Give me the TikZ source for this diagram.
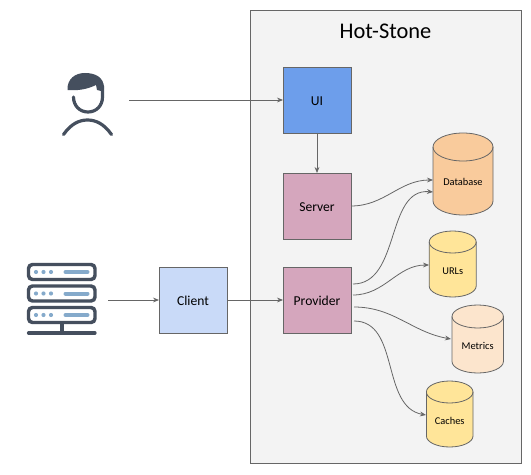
\documentclass[tikz,border=0pt]{standalone}
\usepackage{fontspec}
\setmainfont{Carlito}
\usetikzlibrary{arrows.meta}
\definecolor{edge}{HTML}{666666}
\definecolor{ink}{HTML}{454F5E}
\definecolor{steel}{HTML}{85AACB}
\definecolor{panelgrey}{HTML}{F3F3F3}
\definecolor{uiblue}{RGB}{109,158,235}
\definecolor{rose}{RGB}{213,166,189}
\definecolor{pale}{RGB}{201,218,248}
\definecolor{peach}{RGB}{249,203,156}
\definecolor{butter}{RGB}{255,229,153}
\definecolor{cream}{RGB}{252,229,205}
\tikzset{
  boxnode/.style={draw=edge,line width=0.6pt,minimum width=51pt,minimum height=49.5pt,inner sep=0pt,outer sep=0pt,text height=9pt,text depth=0.2pt,font=\fontsize{10.2}{12}\selectfont},
  drumline/.style={draw=edge,line width=0.6pt},
  drumtext/.style={inner sep=0pt,outer sep=0pt,font=\fontsize{7.8}{9}\selectfont},
  link/.style={draw=edge,line width=0.6pt,-{Stealth[length=4.5pt,width=3.6pt]}},
  iconline/.style={draw=ink,line width=2.4pt,line cap=round},
  rack/.style={draw=ink,fill=white,line width=2.6pt,rounded corners=3pt},
  led/.style={fill=steel,draw=none},
  ledbar/.style={draw=steel,line width=3pt,line cap=round}
}
% name, cx, top, bottom, rx, ry, colour, text, text y
\newcommand{\drumat}[9]{%
  \filldraw[drumline,fill=#7] ({#2-#5},{#3+#6}) -- ({#2-#5},{#4-#6})
     arc[start angle=180,end angle=0,x radius=#5,y radius=#6]
     -- ({#2+#5},{#3+#6})
     arc[start angle=0,end angle=-180,x radius=#5,y radius=#6] -- cycle;
  \draw[drumline] ({#2-#5},{#3+#6}) arc[start angle=180,end angle=0,x radius=#5,y radius=#6];
  \node[drumtext] (#1) at (#2,#9) {#8};
}
\begin{document}
\begin{tikzpicture}[x=0.75pt,y=-0.75pt]
\useasboundingbox (0,0) rectangle (531,474);
\fill[white] (0,0) rectangle (531,474);
\node[draw=edge,fill=panelgrey,line width=0.7pt,minimum width=203.25pt,minimum height=339.75pt,inner sep=0pt,outer sep=0pt] (panel) at (385.5,236.5) {};
\node[font=\fontsize{16.8}{20}\selectfont] (title) at (385.5,31) {Hot-Stone};
% user icon
\draw[iconline] (73.5,97) .. controls (73.5,106) and (80,112) .. (88,112) .. controls (96,112) and (102.5,106) .. (102.5,97) -- (102.5,86);
\fill[ink] (67.5,90) .. controls (67,79) and (75,73) .. (85,73) .. controls (95,73) and (104,77) .. (104,88) -- (101,91) -- (97,90) -- (96,85) .. controls (88,89) and (78,91) .. (67.5,90) -- cycle;
\draw[iconline] (63.5,134.5) .. controls (71,124) and (79,120) .. (87.5,120) .. controls (96,120) and (104,124) .. (111.5,134.5);
% server icon
\draw[iconline] (62,323) -- (62,333);
\draw[iconline] (28.5,333) -- (95,333);
\foreach \y in {264.5,286,307.5}{
  \draw[rack] (28.5,\y) rectangle (95,\y+15);
  \fill[led] (36,\y+7.5) circle[radius=2.1];
  \fill[led] (43.5,\y+7.5) circle[radius=2.1];
  \fill[led] (51,\y+7.5) circle[radius=2.1];
  \draw[ledbar] (65.5,\y+7.5) -- (87.5,\y+7.5);
}
% boxes
\node[boxnode,fill=uiblue] (ui) at (317,100) {UI};
\node[boxnode,fill=rose] (server) at (317,206) {Server};
\node[boxnode,fill=rose] (provider) at (317,300) {Provider};
\node[boxnode,fill=pale] (client) at (193,300) {Client};
% drums
\drumat{db}{463}{133}{215}{30}{14}{peach}{Database}{182}
\drumat{urls}{452.7}{231}{297}{23.5}{11}{butter}{URLs}{271.5}
\drumat{metrics}{477.7}{305}{373}{25.7}{11.5}{cream}{Metrics}{345.5}
\drumat{caches}{449.7}{381}{447}{23.3}{11}{butter}{Caches}{420.5}
% free ends
\coordinate (userout) at (129,100);
\coordinate (rackout) at (108,300);
\coordinate (p1) at (353,284);
\coordinate (p2) at (353,295);
\coordinate (p3) at (354,307);
\coordinate (p4) at (354,321);
\coordinate (dbA) at (433,180);
\coordinate (dbB) at (433,192);
\coordinate (urlA) at (429,265);
\coordinate (metA) at (451,339);
\coordinate (cacA) at (426,415);
% connectors
\draw[link] (userout) -- (ui.west |- userout);
\draw[link] (rackout) -- (client.west |- rackout);
\draw[link] (client) -- (provider);
\draw[link] (ui) -- (server);
\draw[link] (server.east) to[out=0,in=180] (dbA);
\draw[link] (p1) to[out=0,in=175] (dbB);
\draw[link] (p2) to[out=0,in=180] (urlA);
\draw[link] (p3) to[out=0,in=170] (metA);
\draw[link] (p4) to[out=0,in=170] (cacA);
\end{tikzpicture}
\end{document}
